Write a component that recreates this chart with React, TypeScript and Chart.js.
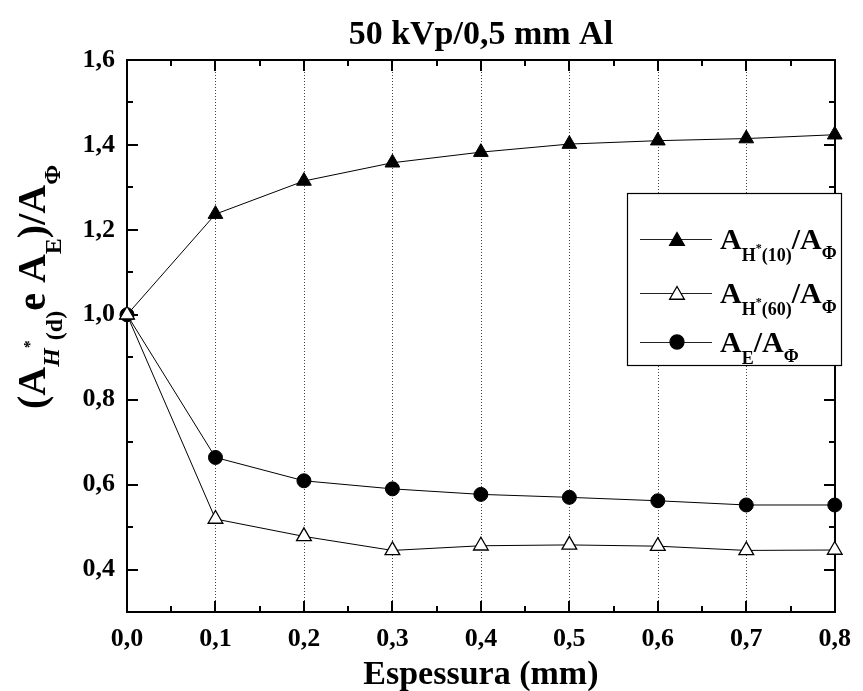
import React, { useEffect, useRef } from 'react';
import { Chart, registerables } from 'chart.js';

Chart.register(...registerables);

// ---- data ----
const thickness = [0, 0.1, 0.2, 0.3, 0.4, 0.5, 0.6, 0.7, 0.8];
const ratioH10 = [1.0, 1.237, 1.315, 1.358, 1.383, 1.402, 1.41, 1.415, 1.424];
const ratioH60 = [1.0, 0.519, 0.478, 0.445, 0.456, 0.458, 0.455, 0.445, 0.446];
const ratioE = [1.0, 0.664, 0.609, 0.59, 0.577, 0.57, 0.562, 0.552, 0.552];
const xTickValues = [0, 0.1, 0.2, 0.3, 0.4, 0.5, 0.6, 0.7, 0.8];
const xMinorValues = [0.05, 0.15, 0.25, 0.35, 0.45, 0.55, 0.65, 0.75];
const yTickValues = [0.4, 0.6, 0.8, 1.0, 1.2, 1.4, 1.6];
const yMinorValues = [0.5, 0.7, 0.9, 1.1, 1.3, 1.5];
const yMin = 0.3;
const yMax = 1.6;
const titleText = '50 kVp/0,5 mm Al';
const xTitleText = 'Espessura (mm)';

const FONT = '"Liberation Serif", "Times New Roman", serif';
const fmt = (v: number) => v.toFixed(1).replace('.', ',');

type Seg = { t: string; font: string; dy?: number };

function measureRich(ctx: CanvasRenderingContext2D, segs: Seg[]) {
  let w = 0;
  for (const s of segs) {
    ctx.font = s.font;
    w += ctx.measureText(s.t).width;
  }
  return w;
}
function drawRich(ctx: CanvasRenderingContext2D, segs: Seg[], x: number, y: number) {
  let cx = x;
  for (const s of segs) {
    ctx.font = s.font;
    ctx.fillText(s.t, cx, y + (s.dy || 0));
    cx += ctx.measureText(s.t).width;
  }
}

function drawMarker(ctx: CanvasRenderingContext2D, style: string, x: number, y: number, r: number, fill: string, lw: number) {
  ctx.beginPath();
  if (style === 'triangle') {
    let rad = 0;
    const third = (2 * Math.PI) / 3;
    ctx.moveTo(x + Math.sin(rad) * r, y - Math.cos(rad) * r);
    rad += third;
    ctx.lineTo(x + Math.sin(rad) * r, y - Math.cos(rad) * r);
    rad += third;
    ctx.lineTo(x + Math.sin(rad) * r, y - Math.cos(rad) * r);
    ctx.closePath();
  } else {
    ctx.arc(x, y, r, 0, Math.PI * 2);
  }
  ctx.fillStyle = fill;
  ctx.fill();
  ctx.lineWidth = lw;
  ctx.strokeStyle = '#000';
  ctx.stroke();
}

function drawFrameAndTicks(chart: any) {
  const ctx: CanvasRenderingContext2D = chart.ctx;
  const a = chart.chartArea;
  const x = chart.scales.x;
  const y = chart.scales.y;
  const L = Math.round(a.left), R = Math.round(a.right), T = Math.round(a.top), B = Math.round(a.bottom);
  ctx.save();
  ctx.fillStyle = '#000';
  const major = 11;
  const minor = 6;
  const t = 2;
  const xt = (v: number, len: number) => {
    const px = Math.round(x.getPixelForValue(v));
    ctx.fillRect(px - 1, B - len, t, len);
    ctx.fillRect(px - 1, T, t, len);
  };
  const yt = (v: number, len: number) => {
    const py = Math.round(y.getPixelForValue(v));
    ctx.fillRect(L, py - 1, len, t);
    ctx.fillRect(R - len, py - 1, len, t);
  };
  xTickValues.forEach((v) => xt(v, major));
  xMinorValues.forEach((v) => xt(v, minor));
  yTickValues.forEach((v) => yt(v, major));
  yMinorValues.forEach((v) => yt(v, minor));
  // frame
  ctx.fillRect(L - 1, T - 1, R - L + 2, 2);
  ctx.fillRect(L - 1, B - 1, R - L + 2, 2);
  ctx.fillRect(L - 1, T - 1, 2, B - T + 2);
  ctx.fillRect(R - 1, T - 1, 2, B - T + 2);
  ctx.restore();
}

const decor = {
  id: 'decor',
  beforeDatasetsDraw(chart: any) {
    const { ctx, chartArea: a, scales } = chart;
    const x = scales.x;
    ctx.save();
    // dotted vertical grid
    ctx.strokeStyle = '#444';
    ctx.lineWidth = 1;
    ctx.setLineDash([1, 2]);
    xTickValues.forEach((v) => {
      const px = Math.round(x.getPixelForValue(v)) + 0.5;
      ctx.beginPath();
      ctx.moveTo(px, a.top);
      ctx.lineTo(px, a.bottom);
      ctx.stroke();
    });
    ctx.restore();
    drawFrameAndTicks(chart);
  },
  afterDatasetsDraw(chart: any) {
    const { ctx } = chart;
    ctx.save();
    // legend box
    const bx = 627, by = 193, bw = 214, bh = 172;
    ctx.fillStyle = '#fff';
    ctx.fillRect(bx, by, bw, bh);
    ctx.strokeStyle = '#000';
    ctx.lineWidth = 1.2;
    ctx.strokeRect(bx + 0.5, by + 0.5, bw, bh);
    const main = `bold 30px ${FONT}`;
    const sub = `bold 18px ${FONT}`;
    const sup = `bold 12px ${FONT}`;
    const rows = [
      {
        y: 239, style: 'triangle', fill: '#000', r: 8.5,
        segs: [
          { t: 'A', font: main }, { t: 'H', font: sub, dy: 12 }, { t: '*', font: sup, dy: 3 },
          { t: '(10)', font: sub, dy: 12 }, { t: '/A', font: main }, { t: 'Φ', font: sub, dy: 10 },
        ],
      },
      {
        y: 293, style: 'triangle', fill: '#fff', r: 8.5,
        segs: [
          { t: 'A', font: main }, { t: 'H', font: sub, dy: 12 }, { t: '*', font: sup, dy: 3 },
          { t: '(60)', font: sub, dy: 12 }, { t: '/A', font: main }, { t: 'Φ', font: sub, dy: 10 },
        ],
      },
      {
        y: 342, style: 'circle', fill: '#000', r: 7,
        segs: [
          { t: 'A', font: main }, { t: 'E', font: sub, dy: 12 }, { t: '/A', font: main }, { t: 'Φ', font: sub, dy: 10 },
        ],
      },
    ];
    rows.forEach((row) => {
      ctx.strokeStyle = '#222';
      ctx.lineWidth = 1;
      ctx.beginPath();
      ctx.moveTo(640, row.y + 0.5);
      ctx.lineTo(712, row.y + 0.5);
      ctx.stroke();
      drawMarker(ctx, row.style, 677, row.y + (row.style === 'triangle' ? 2 : 0), row.r, row.fill, 1.3);
      ctx.fillStyle = '#000';
      ctx.textAlign = 'left';
      ctx.textBaseline = 'alphabetic';
      drawRich(ctx, row.segs, 720, row.y + 10);
    });
    ctx.restore();
  },
  afterDraw(chart: any) {
    const { ctx, chartArea: a } = chart;
    ctx.save();
    ctx.fillStyle = '#000';
    ctx.textBaseline = 'alphabetic';
    ctx.textAlign = 'center';
    const cx = (a.left + a.right) / 2;
    ctx.font = `bold 34px ${FONT}`;
    ctx.fillText(titleText, cx, 44);
    ctx.font = `bold 34px ${FONT}`;
    ctx.fillText(xTitleText, cx, 684);
    // y title (rotated)
    const big = `bold 40px ${FONT}`;
    const sub = `bold 24px ${FONT}`;
    const subI = `italic bold 24px ${FONT}`;
    const sup = `bold 16px ${FONT}`;
    const segs: Seg[] = [
      { t: '(A', font: big },
      { t: 'H', font: subI, dy: 14 },
      { t: '*', font: sup, dy: -10 },
      { t: '(d)', font: sub, dy: 17 },
      { t: 'e A', font: big },
      { t: 'E', font: sub, dy: 16 },
      { t: ')/A', font: big },
      { t: 'Φ', font: sub, dy: 15 },
    ];
    ctx.textAlign = 'left';
    const w = measureRich(ctx, segs);
    ctx.translate(45, 287);
    ctx.rotate(-Math.PI / 2);
    drawRich(ctx, segs, -w / 2, 0);
    ctx.restore();
  },
};

export default function App() {
  const ref = useRef<HTMLCanvasElement>(null);
  useEffect(() => {
    if (!ref.current) return;
    const mk = (ys: number[]) => thickness.map((t, i) => ({ x: t, y: ys[i] }));
    const chart = new Chart(ref.current, {
      type: 'line',
      data: {
        datasets: [
          {
            label: 'AH*(60)/AΦ',
            data: mk(ratioH60),
            borderColor: '#000',
            borderWidth: 1,
            pointStyle: 'triangle',
            pointRadius: 8.5,
            pointBackgroundColor: '#fff',
            pointBorderColor: '#000',
            pointBorderWidth: 1.3,
            clip: false,
          } as any,
          {
            label: 'AH*(10)/AΦ',
            data: mk(ratioH10),
            borderColor: '#000',
            borderWidth: 1,
            pointStyle: 'triangle',
            pointRadius: 8.5,
            pointBackgroundColor: '#000',
            pointBorderColor: '#000',
            pointBorderWidth: 1,
            clip: false,
          } as any,
          {
            label: 'AE/AΦ',
            data: mk(ratioE),
            borderColor: '#000',
            borderWidth: 1,
            pointStyle: 'circle',
            pointRadius: 7,
            pointBackgroundColor: '#000',
            pointBorderColor: '#000',
            pointBorderWidth: 1,
            clip: false,
          } as any,
        ],
      },
      options: {
        responsive: false,
        animation: false,
        events: [],
        layout: { padding: { top: 60, right: 20, left: 0, bottom: 0 } },
        plugins: { legend: { display: false }, tooltip: { enabled: false }, title: { display: false } },
        elements: { line: { tension: 0 } },
        scales: {
          x: {
            type: 'linear',
            min: 0,
            max: 0.8,
            border: { display: false },
            grid: { display: false, drawTicks: false },
            afterBuildTicks: (s: any) => {
              s.ticks = xTickValues.map((v) => ({ value: v }));
            },
            afterFit: (s: any) => {
              s.height = 79;
            },
            ticks: {
              autoSkip: false,
              maxRotation: 0,
              padding: 12,
              color: '#000',
              font: { family: FONT, size: 26, weight: 'bold' },
              callback: (v: any) => fmt(Number(v)),
            },
          },
          y: {
            type: 'linear',
            min: yMin,
            max: yMax,
            border: { display: false },
            grid: { display: false, drawTicks: false },
            afterBuildTicks: (s: any) => {
              s.ticks = yTickValues.map((v) => ({ value: v }));
            },
            afterFit: (s: any) => {
              s.width = 127;
            },
            ticks: {
              autoSkip: false,
              padding: 12,
              color: '#000',
              font: { family: FONT, size: 26, weight: 'bold' },
              callback: (v: any) => fmt(Number(v)),
            },
          },
        },
      } as any,
      plugins: [decor],
    });
    return () => chart.destroy();
  }, []);
  return (
    <div style={{ position: 'absolute', left: 0, top: 0, width: 863, height: 691, background: '#fff' }}>
      <canvas ref={ref} width={863} height={691} style={{ display: 'block' }} />
    </div>
  );
}
